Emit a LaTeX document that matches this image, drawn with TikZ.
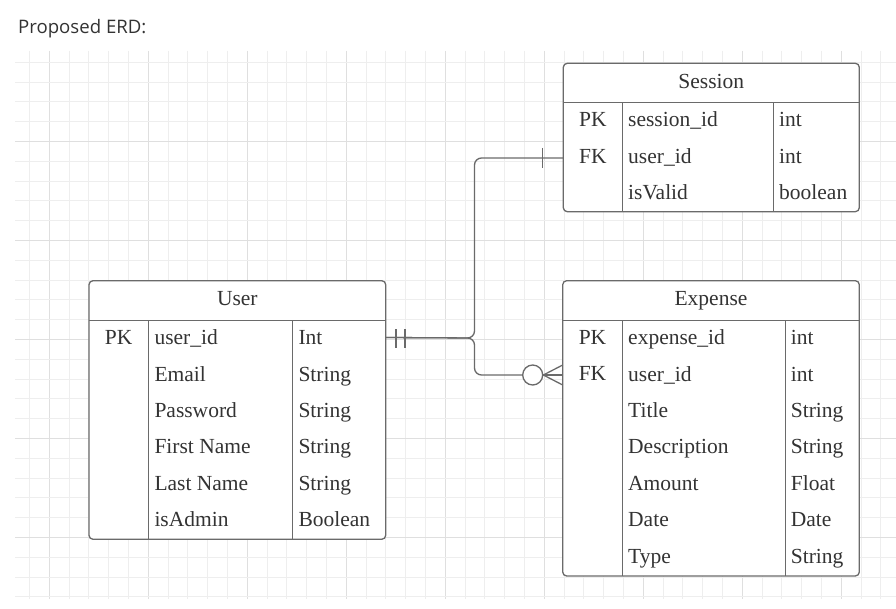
\documentclass[tikz,border=0pt]{standalone}
\usepackage{fontspec}
\setmainfont{Liberation Serif}
\newfontfamily\titlefamily{Open Sans}
\newcommand\tfont{\fontsize{21.5bp}{26bp}\selectfont}
\newcommand\ttlfont{\titlefamily\fontsize{18.6bp}{22bp}\selectfont}
\definecolor{gminor}{HTML}{EEEEEE}
\definecolor{gmajor}{HTML}{DFDFDF}
\definecolor{edge}{HTML}{6A6A6A}
\definecolor{txt}{HTML}{333333}
\begin{document}
\begin{tikzpicture}[x=1bp,y=-1bp,
  tbl/.style={draw=edge, line width=1.3bp, rounded corners=4bp, fill=white, anchor=north west, inner sep=0pt, outer sep=0pt},
  cell/.style={text=txt, font=\tfont, inner sep=0pt, text height=14.1bp, text depth=0pt, anchor=west},
  keycell/.style={cell, anchor=center},
  rule/.style={draw=edge, line width=1.3bp},
  conn/.style={draw=edge, line width=1.3bp, rounded corners=7bp},
  gridmin/.style={draw=gminor, line width=1bp},
  gridmaj/.style={draw=gmajor, line width=1bp}]
\useasboundingbox (0,0) rectangle (896,609);
\fill[white] (0,0) rectangle (896,609);
% grid
\foreach \k in {0,...,43}{
  \pgfmathsetmacro\xx{29.5+19.8*\k}
  \pgfmathtruncatemacro\m{mod(\k,5)}
  \ifnum\m=1
    \draw[gridmaj] (\xx,51) -- (\xx,599);
  \else
    \draw[gridmin] (\xx,51) -- (\xx,599);
  \fi
}
\foreach \k in {0,...,27}{
  \pgfmathsetmacro\yy{62.3+19.8*\k}
  \pgfmathtruncatemacro\m{mod(\k,5)}
  \ifnum\m=4
    \draw[gridmaj] (15,\yy) -- (896,\yy);
  \else
    \draw[gridmin] (15,\yy) -- (896,\yy);
  \fi
}
% title
\node[anchor=west, font=\ttlfont, text=txt, inner sep=0pt, text height=13.3bp, text depth=0pt] (title) at (18,27.2) {Proposed ERD:};

% Session table
\node[tbl, minimum width=296bp, minimum height=148.4bp] (session) at (563.3,63.3) {};
\draw[rule] (563.3,102.7) -- (859.3,102.7);
\draw[rule] (622.3,102.7) -- (622.3,211.7);
\draw[rule] (773.3,102.7) -- (773.3,211.7);
\node[keycell] (shead) at (711.3,81.3) {Session};
\node[keycell] (spk) at (592.8,119.5) {PK};
\node[keycell] (sfk) at (592.8,156) {FK};
\node[cell] (sn1) at (628,119.5) {session\_id};
\node[cell] (sn2) at (628,156) {user\_id};
\node[cell] (sn3) at (628,192) {isValid};
\node[cell] (st1) at (779,119.5) {int};
\node[cell] (st2) at (779,156) {int};
\node[cell] (st3) at (779,192) {boolean};

% User table
\node[tbl, minimum width=296.7bp, minimum height=258.6bp] (user) at (89,280.7) {};
\draw[rule] (89,320.7) -- (385.7,320.7);
\draw[rule] (148.3,320.7) -- (148.3,539.3);
\draw[rule] (292.3,320.7) -- (292.3,539.3);
\node[keycell] (uhead) at (237.3,298.3) {User};
\node[keycell] (upk) at (118.7,337.5) {PK};
\foreach \nm/\ty [count=\i from 0] in {user\_id/Int, Email/String, Password/String, First Name/String, Last Name/String, isAdmin/Boolean}{
  \node[cell] (un\i) at (154.3,337.5+36.45*\i) {\nm};
  \node[cell] (ut\i) at (298.3,337.5+36.45*\i) {\ty};
}

% Expense table
\node[tbl, minimum width=296.6bp, minimum height=295.3bp] (expense) at (562.7,280.7) {};
\draw[rule] (562.7,320.7) -- (859.3,320.7);
\draw[rule] (622.3,320.7) -- (622.3,576);
\draw[rule] (785.7,320.7) -- (785.7,576);
\node[keycell] (ehead) at (711,298.3) {Expense};
\node[keycell] (epk) at (592.5,337.5) {PK};
\node[keycell] (efk) at (592.5,373.9) {FK};
\foreach \nm/\ty [count=\i from 0] in {expense\_id/int, user\_id/int, Title/String, Description/String, Amount/Float, Date/Date, Type/String}{
  \node[cell] (en\i) at (628,337.5+36.45*\i) {\nm};
  \node[cell] (et\i) at (790.7,337.5+36.45*\i) {\ty};
}

% connectors
\coordinate (sIn) at (563.3,158);
\coordinate (eIn) at (562.7,375);
\node[circle, draw=edge, line width=1.3bp, minimum size=20bp, inner sep=0pt, fill=white] (ocirc) at (532.7,375) {};
\draw[conn] (user.east |- upk) -- (474.5,338) -- (474.5,158) -- (sIn);
\draw[conn] (user.east |- upk) -- (474.5,338) -- (474.5,375) -- (ocirc.west);
% one-and-only-one marks at User
\draw[rule] (396,329) -- (396,348);
\draw[rule] (405,329) -- (405,348);
% one mark at Session
\draw[rule] (542.7,148) -- (542.7,168);
% crow's foot at Expense
\draw[rule] (ocirc.east) -- (562.7,365);
\draw[rule] (ocirc.east) -- (eIn);
\draw[rule] (ocirc.east) -- (562.7,385);
\end{tikzpicture}
\end{document}
